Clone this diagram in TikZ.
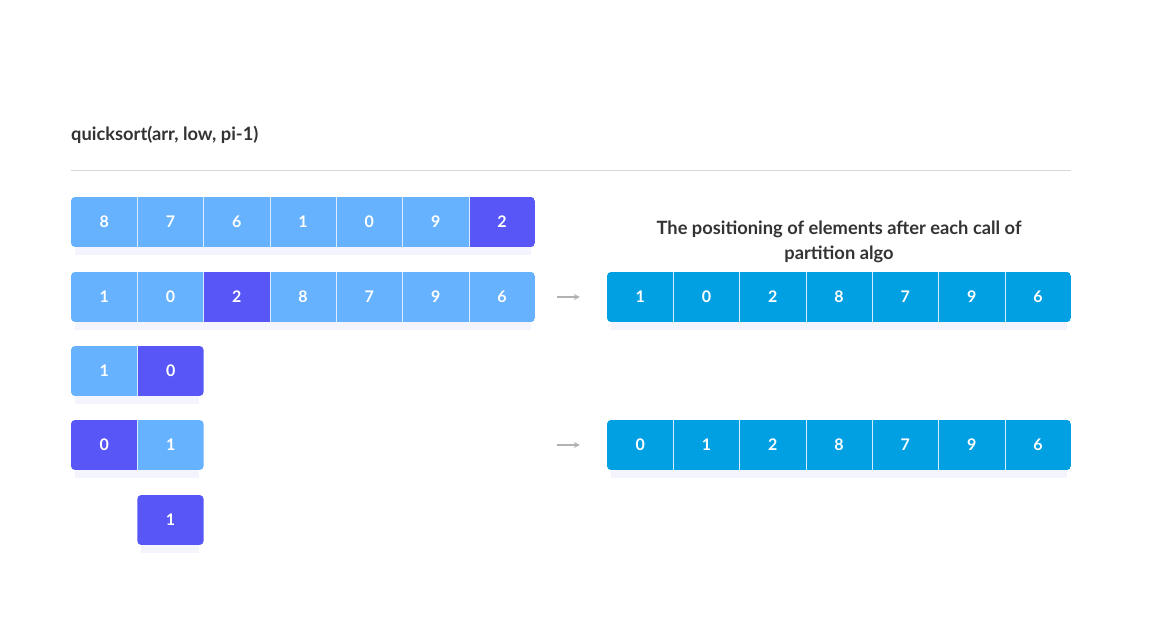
\documentclass[tikz,border=0pt]{standalone}
\usepackage{fontspec}
\setmainfont{Lato}
\usetikzlibrary{positioning, arrows.meta}
\definecolor{lightcell}{RGB}{102,178,255}
\definecolor{pivotcell}{RGB}{88,86,246}
\definecolor{donecell}{RGB}{0,160,227}
\definecolor{textgray}{RGB}{51,51,51}
\tikzstyle{cell} = [rectangle, minimum width=66.3pt, minimum height=50pt, inner sep=0pt, text=white, font=\bfseries\fontsize{16}{16}\selectfont]
\tikzstyle{cellline} = [white!75!lightcell, line width=0.8pt]
\tikzstyle{rowshadow} = [fill=blue!6, opacity=0.7]
\tikzstyle{heading} = [text=textgray, font=\bfseries\fontsize{18.3}{25}\selectfont, inner sep=0pt]
\tikzstyle{arrow} = [gray!60, line width=1.6pt, -{Stealth[length=6pt,width=6pt]}]

\begin{document}
\begin{tikzpicture}[x=1pt, y=-1pt]
    \useasboundingbox (0,0) rectangle (1160,644);

    % Title and rule
    \node (title) [heading, anchor=west] at (71,135) {quicksort(arr, low, pi-1)};
    \draw [gray!30, line width=1pt] (71,171) -- (1071,171);
    \node (caption) [heading, align=center] at (839,242) {The positioning of elements after each call of\\partition algo};

    % Left rows
    \begin{scope}
        \fill [rowshadow] (75,247) rectangle (531,255);
        \clip [rounded corners=4pt] (71,197) rectangle (535,247);
        \foreach \v/\c [count=\i] in {8/lightcell,7/lightcell,6/lightcell,1/lightcell,0/lightcell,9/lightcell,2/pivotcell}
            \node (r1c\i) [cell, fill=\c] at (37.85+66.3*\i,222) {\v};
        \foreach \i in {1,...,6}
            \draw [cellline] (r1c\i.north east) -- (r1c\i.south east);
    \end{scope}
    \begin{scope}
        \fill [rowshadow] (75,322) rectangle (531,330);
        \clip [rounded corners=4pt] (71,272) rectangle (535,322);
        \foreach \v/\c [count=\i] in {1/lightcell,0/lightcell,2/pivotcell,8/lightcell,7/lightcell,9/lightcell,6/lightcell}
            \node (r2c\i) [cell, fill=\c] at (37.85+66.3*\i,297) {\v};
        \foreach \i in {1,...,6}
            \draw [cellline] (r2c\i.north east) -- (r2c\i.south east);
    \end{scope}
    \begin{scope}
        \fill [rowshadow] (75,396) rectangle (199,404);
        \clip [rounded corners=4pt] (71,346) rectangle (203.6,396);
        \node (r3c1) [cell, fill=lightcell] at (104.15,371) {1};
        \node (r3c2) [cell, fill=pivotcell, right=0pt of r3c1] {0};
        \draw [cellline] (r3c1.north east) -- (r3c1.south east);
    \end{scope}
    \begin{scope}
        \fill [rowshadow] (75,470) rectangle (199,478);
        \clip [rounded corners=4pt] (71,420) rectangle (203.6,470);
        \node (r4c1) [cell, fill=pivotcell] at (104.15,445) {0};
        \node (r4c2) [cell, fill=lightcell, right=0pt of r4c1] {1};
        \draw [cellline] (r4c1.north east) -- (r4c1.south east);
    \end{scope}
    \begin{scope}
        \fill [rowshadow] (141,545) rectangle (199,553);
        \clip [rounded corners=4pt] (137.3,495) rectangle (203.6,545);
        \node (r5c2) [cell, fill=pivotcell] at (170.45,520) {1};
    \end{scope}

    % Right rows
    \begin{scope}
        \fill [rowshadow] (611,322) rectangle (1067,330);
        \clip [rounded corners=4pt] (607,272) rectangle (1071,322);
        \foreach \v [count=\i] in {1,0,2,8,7,9,6}
            \node (s1c\i) [cell, fill=donecell] at (573.85+66.3*\i,297) {\v};
        \foreach \i in {1,...,6}
            \draw [cellline] (s1c\i.north east) -- (s1c\i.south east);
    \end{scope}
    \begin{scope}
        \fill [rowshadow] (611,470) rectangle (1067,478);
        \clip [rounded corners=4pt] (607,420) rectangle (1071,470);
        \foreach \v [count=\i] in {0,1,2,8,7,9,6}
            \node (s2c\i) [cell, fill=donecell] at (573.85+66.3*\i,445) {\v};
        \foreach \i in {1,...,6}
            \draw [cellline] (s2c\i.north east) -- (s2c\i.south east);
    \end{scope}

    % Arrows
    \draw [arrow] ([xshift=22pt]r2c7.east) -- ([xshift=-27pt]s1c1.west);
    \draw [arrow] ([xshift=352.4pt]r4c2.east) -- ([xshift=-27pt]s2c1.west);

\end{tikzpicture}
\end{document}
